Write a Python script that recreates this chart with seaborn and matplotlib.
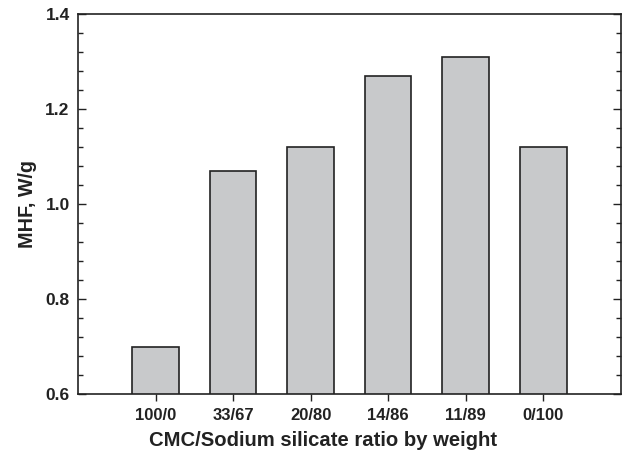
import matplotlib
matplotlib.use("Agg")
import matplotlib.pyplot as plt
import seaborn as sns
import pandas as pd
from matplotlib.ticker import MultipleLocator

categories = ["100/0", "33/67", "20/80", "14/86", "11/89", "0/100"]
mhf = [0.70, 1.07, 1.12, 1.27, 1.31, 1.12]

df = pd.DataFrame({"ratio": categories, "mhf": mhf})

sns.set_style("ticks")
plt.rcParams["font.family"] = ["Liberation Sans", "DejaVu Sans"]
plt.rcParams["font.weight"] = "bold"

fig = plt.figure(figsize=(6.29, 4.54), dpi=100)
ax = fig.add_axes([0.124, 0.132, 0.863, 0.837])

sns.barplot(data=df, x="ratio", y="mhf", color="#c8c9cb", edgecolor="#222222",
            linewidth=1.2, width=0.6, saturation=1, ax=ax, bottom=0)

ax.set_xlim(-1, 6)
ax.set_ylim(0.6, 1.4)
ax.yaxis.set_major_locator(MultipleLocator(0.2))
ax.yaxis.set_minor_locator(MultipleLocator(0.04))
ax.yaxis.set_major_formatter(matplotlib.ticker.FormatStrFormatter("%.1f"))
ax.tick_params(axis="y", which="both", direction="in", left=True, right=True,
               labelsize=12.5, colors="#222222", pad=6)
ax.tick_params(axis="y", which="major", length=6, width=1)
ax.tick_params(axis="y", which="minor", length=3.5, width=1)
ax.tick_params(axis="x", direction="out", length=5, width=1, labelsize=12,
               colors="#222222", pad=5)
for lab in ax.get_xticklabels() + ax.get_yticklabels():
    lab.set_fontweight("bold")
    lab.set_color("#222222")
for s in ax.spines.values():
    s.set_visible(True)
    s.set_color("#222222")
    s.set_linewidth(1.2)

ax.set_xlabel("CMC/Sodium silicate ratio by weight", fontsize=14.6, fontweight="bold",
              color="#222222", labelpad=6)
ax.xaxis.set_label_coords(0.451, -0.098)
ax.set_ylabel("MHF, W/g", fontsize=14.2, fontweight="bold", color="#222222", labelpad=6)

fig.savefig("out.png", dpi=100)
